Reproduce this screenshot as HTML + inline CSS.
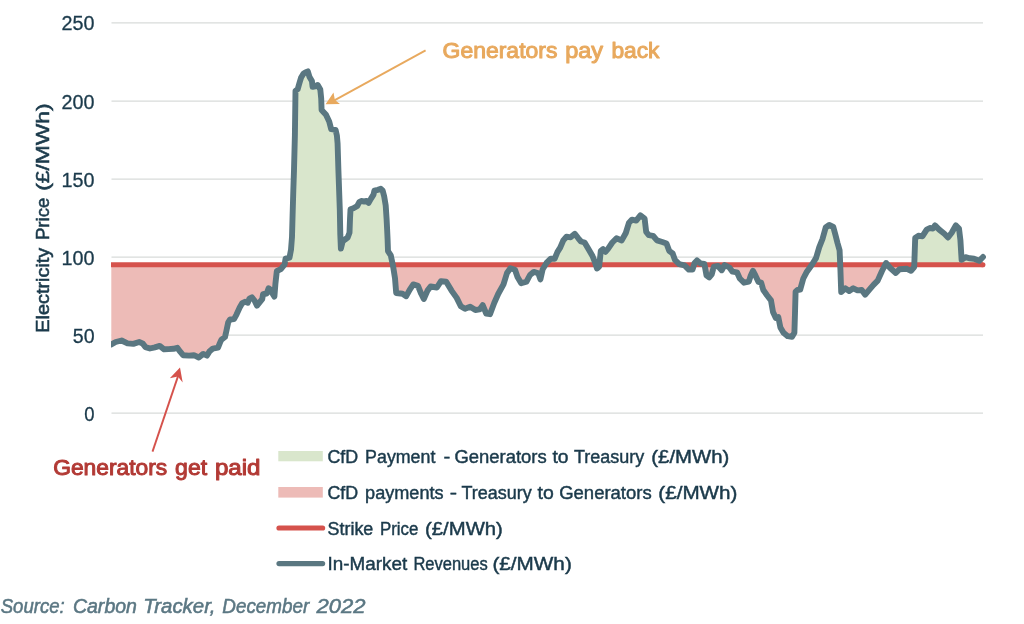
<!DOCTYPE html>
<html lang="en"><head><meta charset="utf-8"><title>CfD chart</title>
<style>html,body{margin:0;padding:0;background:#fff}svg{display:block}</style></head>
<body>
<svg width="1024" height="624" viewBox="0 0 1024 624" font-family="'Liberation Sans', sans-serif">
<defs><clipPath id="up"><rect x="111" y="0" width="900" height="264.75"/></clipPath><clipPath id="dn"><rect x="111" y="264.75" width="900" height="359"/></clipPath><clipPath id="plot"><rect x="111" y="0" width="900" height="624"/></clipPath></defs>
<rect width="1024" height="624" fill="#fff"/>
<line x1="111.5" x2="983" y1="22.9" y2="22.9" stroke="#d8dbda" stroke-width="1.25"/>
<line x1="111.5" x2="983" y1="101" y2="101" stroke="#d8dbda" stroke-width="1.25"/>
<line x1="111.5" x2="983" y1="179.2" y2="179.2" stroke="#d8dbda" stroke-width="1.25"/>
<line x1="111.5" x2="983" y1="257.1" y2="257.1" stroke="#d8dbda" stroke-width="1.25"/>
<line x1="111.5" x2="983" y1="335.1" y2="335.1" stroke="#d8dbda" stroke-width="1.25"/>
<line x1="111.5" x2="983" y1="413.1" y2="413.1" stroke="#d8dbda" stroke-width="1.25"/>
<text x="94.6" y="30.4" text-anchor="end" font-size="19.5" fill="#1b3a4b" stroke="#1b3a4b" stroke-width="0.3" textLength="33.0" lengthAdjust="spacingAndGlyphs">250</text>
<text x="94.6" y="108.5" text-anchor="end" font-size="19.5" fill="#1b3a4b" stroke="#1b3a4b" stroke-width="0.3" textLength="33.0" lengthAdjust="spacingAndGlyphs">200</text>
<text x="94.6" y="186.7" text-anchor="end" font-size="19.5" fill="#1b3a4b" stroke="#1b3a4b" stroke-width="0.3" textLength="33.0" lengthAdjust="spacingAndGlyphs">150</text>
<text x="94.6" y="264.6" text-anchor="end" font-size="19.5" fill="#1b3a4b" stroke="#1b3a4b" stroke-width="0.3" textLength="33.0" lengthAdjust="spacingAndGlyphs">100</text>
<text x="94.6" y="342.6" text-anchor="end" font-size="19.5" fill="#1b3a4b" stroke="#1b3a4b" stroke-width="0.3" textLength="21.8" lengthAdjust="spacingAndGlyphs">50</text>
<text x="94.6" y="420.6" text-anchor="end" font-size="19.5" fill="#1b3a4b" stroke="#1b3a4b" stroke-width="0.3" textLength="10.3" lengthAdjust="spacingAndGlyphs">0</text>
<g transform="translate(48.5,331.9) rotate(-90)">
<text x="-0.8" y="0" font-size="19" fill="#1b3a4b" stroke="#1b3a4b" stroke-width="0.55" textLength="85.0" lengthAdjust="spacingAndGlyphs">Electricity</text>
<text x="91.9" y="0" font-size="19" fill="#1b3a4b" stroke="#1b3a4b" stroke-width="0.55" textLength="42.3" lengthAdjust="spacingAndGlyphs">Price</text>
<text x="141.1" y="0" font-size="19" fill="#1b3a4b" stroke="#1b3a4b" stroke-width="0.55" textLength="87.4" lengthAdjust="spacingAndGlyphs">(£/MWh)</text>
</g>
<path d="M111.3,264.75 L111.3,344.4 L115.7,342.0 L121.6,340.5 L127.5,343.4 L133.3,343.9 L139.2,342.0 L142.6,343.4 L145.5,347.1 L149.9,348.5 L154.8,347.3 L159.7,345.9 L164.1,349.3 L168.5,349.1 L173.4,348.8 L177.3,347.8 L180.2,351.7 L183.1,355.2 L189.0,355.6 L193.9,355.2 L198.8,357.5 L203.2,353.9 L207.0,355.6 L209.6,351.2 L212.8,348.6 L218.0,347.7 L220.5,341.5 L221.5,339.6 L225.0,337.0 L226.3,331.3 L228.2,322.3 L230.1,319.5 L234.0,319.1 L236.5,314.6 L239.7,307.6 L242.3,303.1 L244.9,301.8 L247.7,302.8 L249.4,298.6 L251.9,297.3 L254.5,300.5 L257.0,305.6 L259.6,302.4 L262.2,299.2 L263.1,294.1 L266.7,293.5 L268.6,288.3 L270.5,289.6 L272.4,293.5 L274.4,296.6 L275.4,283.9 L276.8,271.2 L281.2,268.8 L284.6,264.4 L285.6,258.6 L289.5,257.6 L291.0,249.8 L292.0,237.0 L292.6,215.0 L293.3,191.0 L294.0,170.0 L294.9,135.0 L295.5,90.8 L297.7,89.2 L299.3,83.5 L301.0,77.8 L303.4,73.8 L305.8,72.2 L307.8,71.4 L309.4,76.7 L311.9,80.9 L312.6,86.9 L315.1,86.3 L317.7,85.0 L320.3,89.5 L321.2,98.5 L321.6,110.0 L326.0,114.8 L329.2,121.5 L331.2,129.2 L335.6,129.9 L336.9,135.6 L337.6,143.8 L338.4,170.0 L339.8,209.3 L340.3,234.7 L340.9,248.5 L342.6,241.5 L345.0,239.5 L347.6,237.6 L349.5,232.7 L350.0,219.0 L350.5,209.3 L353.4,208.3 L357.3,205.9 L359.3,202.0 L361.2,201.0 L364.2,201.5 L366.6,201.0 L368.6,202.9 L371.0,198.6 L373.5,194.6 L374.4,190.7 L377.9,189.8 L380.8,188.8 L382.7,190.7 L384.2,196.6 L385.7,205.4 L386.6,219.0 L387.1,228.8 L387.6,239.6 L388.0,251.2 L390.8,255.4 L393.0,265.8 L395.0,278.3 L396.2,293.0 L402.5,293.8 L406.2,296.2 L409.8,289.6 L413.3,284.4 L418.0,285.8 L421.2,293.8 L423.8,299.0 L427.5,290.6 L430.6,286.5 L436.9,287.5 L441.0,281.2 L446.2,281.7 L451.5,290.6 L456.7,297.9 L460.8,306.2 L465.0,308.8 L470.2,306.7 L475.4,310.0 L479.6,309.4 L482.7,305.2 L486.2,313.5 L490.0,314.2 L494.2,303.0 L498.3,293.8 L503.5,284.4 L507.0,273.0 L510.4,268.3 L515.0,269.8 L517.5,277.0 L521.2,283.3 L526.5,281.7 L530.0,275.0 L533.8,271.9 L538.3,273.3 L540.4,279.4 L542.7,269.2 L546.5,262.9 L550.8,258.6 L554.6,258.8 L557.5,251.9 L560.2,247.7 L563.3,240.4 L566.5,236.7 L570.6,237.3 L574.8,233.8 L578.3,238.3 L581.0,241.5 L584.6,242.5 L588.3,248.8 L592.5,256.0 L595.0,262.3 L597.0,268.5 L599.2,266.5 L600.8,250.8 L603.0,249.2 L605.4,251.9 L608.0,248.8 L612.3,242.5 L616.5,238.3 L621.7,240.4 L625.8,233.0 L629.0,222.7 L632.0,219.6 L636.2,220.6 L640.4,215.4 L644.6,218.5 L646.2,232.0 L648.8,235.2 L653.0,235.8 L657.0,240.4 L662.3,242.0 L666.5,243.5 L669.2,250.8 L672.6,253.3 L675.0,260.0 L679.2,264.2 L684.5,265.4 L688.8,269.6 L692.5,269.6 L694.6,263.0 L697.0,260.4 L700.2,263.3 L704.4,264.0 L706.5,275.4 L709.2,277.5 L711.7,274.4 L713.8,266.7 L718.0,266.0 L721.7,270.2 L724.6,265.0 L729.4,267.5 L732.5,271.7 L737.0,272.3 L739.8,278.5 L744.0,282.7 L748.8,281.7 L750.8,275.4 L753.0,270.8 L755.4,275.4 L758.5,282.0 L761.2,282.7 L763.3,290.0 L767.0,295.2 L771.0,300.4 L773.0,311.9 L775.8,318.0 L778.3,317.0 L780.4,327.5 L783.5,332.7 L787.7,336.2 L791.9,336.9 L794.4,332.7 L795.0,313.0 L795.6,291.7 L797.5,290.0 L800.2,289.6 L803.3,278.5 L806.5,272.3 L811.7,265.0 L816.0,258.2 L819.2,247.3 L822.5,239.0 L825.7,227.5 L829.2,225.0 L833.3,227.0 L835.4,234.8 L837.5,243.0 L839.6,250.4 L840.4,269.2 L841.2,292.0 L845.4,288.3 L849.2,291.0 L853.3,288.3 L857.5,290.4 L861.7,290.0 L865.2,294.6 L869.4,289.6 L873.5,284.8 L877.7,280.6 L881.9,271.2 L886.0,263.0 L890.2,268.0 L895.8,273.0 L899.6,269.2 L906.9,268.8 L911.0,270.8 L914.2,267.0 L915.2,238.0 L918.3,235.8 L922.5,236.2 L926.7,229.6 L929.8,228.0 L933.0,228.5 L935.0,225.4 L939.2,229.6 L944.4,233.8 L948.0,237.5 L951.7,232.7 L955.8,225.4 L959.0,228.5 L960.4,240.0 L961.6,259.8 L965.5,257.2 L969.8,258.3 L974.0,258.8 L979.2,260.8 L983.0,257.0 L983.0,264.75 Z" fill="#d9e6cc" clip-path="url(#up)"/>
<path d="M111.3,264.75 L111.3,344.4 L115.7,342.0 L121.6,340.5 L127.5,343.4 L133.3,343.9 L139.2,342.0 L142.6,343.4 L145.5,347.1 L149.9,348.5 L154.8,347.3 L159.7,345.9 L164.1,349.3 L168.5,349.1 L173.4,348.8 L177.3,347.8 L180.2,351.7 L183.1,355.2 L189.0,355.6 L193.9,355.2 L198.8,357.5 L203.2,353.9 L207.0,355.6 L209.6,351.2 L212.8,348.6 L218.0,347.7 L220.5,341.5 L221.5,339.6 L225.0,337.0 L226.3,331.3 L228.2,322.3 L230.1,319.5 L234.0,319.1 L236.5,314.6 L239.7,307.6 L242.3,303.1 L244.9,301.8 L247.7,302.8 L249.4,298.6 L251.9,297.3 L254.5,300.5 L257.0,305.6 L259.6,302.4 L262.2,299.2 L263.1,294.1 L266.7,293.5 L268.6,288.3 L270.5,289.6 L272.4,293.5 L274.4,296.6 L275.4,283.9 L276.8,271.2 L281.2,268.8 L284.6,264.4 L285.6,258.6 L289.5,257.6 L291.0,249.8 L292.0,237.0 L292.6,215.0 L293.3,191.0 L294.0,170.0 L294.9,135.0 L295.5,90.8 L297.7,89.2 L299.3,83.5 L301.0,77.8 L303.4,73.8 L305.8,72.2 L307.8,71.4 L309.4,76.7 L311.9,80.9 L312.6,86.9 L315.1,86.3 L317.7,85.0 L320.3,89.5 L321.2,98.5 L321.6,110.0 L326.0,114.8 L329.2,121.5 L331.2,129.2 L335.6,129.9 L336.9,135.6 L337.6,143.8 L338.4,170.0 L339.8,209.3 L340.3,234.7 L340.9,248.5 L342.6,241.5 L345.0,239.5 L347.6,237.6 L349.5,232.7 L350.0,219.0 L350.5,209.3 L353.4,208.3 L357.3,205.9 L359.3,202.0 L361.2,201.0 L364.2,201.5 L366.6,201.0 L368.6,202.9 L371.0,198.6 L373.5,194.6 L374.4,190.7 L377.9,189.8 L380.8,188.8 L382.7,190.7 L384.2,196.6 L385.7,205.4 L386.6,219.0 L387.1,228.8 L387.6,239.6 L388.0,251.2 L390.8,255.4 L393.0,265.8 L395.0,278.3 L396.2,293.0 L402.5,293.8 L406.2,296.2 L409.8,289.6 L413.3,284.4 L418.0,285.8 L421.2,293.8 L423.8,299.0 L427.5,290.6 L430.6,286.5 L436.9,287.5 L441.0,281.2 L446.2,281.7 L451.5,290.6 L456.7,297.9 L460.8,306.2 L465.0,308.8 L470.2,306.7 L475.4,310.0 L479.6,309.4 L482.7,305.2 L486.2,313.5 L490.0,314.2 L494.2,303.0 L498.3,293.8 L503.5,284.4 L507.0,273.0 L510.4,268.3 L515.0,269.8 L517.5,277.0 L521.2,283.3 L526.5,281.7 L530.0,275.0 L533.8,271.9 L538.3,273.3 L540.4,279.4 L542.7,269.2 L546.5,262.9 L550.8,258.6 L554.6,258.8 L557.5,251.9 L560.2,247.7 L563.3,240.4 L566.5,236.7 L570.6,237.3 L574.8,233.8 L578.3,238.3 L581.0,241.5 L584.6,242.5 L588.3,248.8 L592.5,256.0 L595.0,262.3 L597.0,268.5 L599.2,266.5 L600.8,250.8 L603.0,249.2 L605.4,251.9 L608.0,248.8 L612.3,242.5 L616.5,238.3 L621.7,240.4 L625.8,233.0 L629.0,222.7 L632.0,219.6 L636.2,220.6 L640.4,215.4 L644.6,218.5 L646.2,232.0 L648.8,235.2 L653.0,235.8 L657.0,240.4 L662.3,242.0 L666.5,243.5 L669.2,250.8 L672.6,253.3 L675.0,260.0 L679.2,264.2 L684.5,265.4 L688.8,269.6 L692.5,269.6 L694.6,263.0 L697.0,260.4 L700.2,263.3 L704.4,264.0 L706.5,275.4 L709.2,277.5 L711.7,274.4 L713.8,266.7 L718.0,266.0 L721.7,270.2 L724.6,265.0 L729.4,267.5 L732.5,271.7 L737.0,272.3 L739.8,278.5 L744.0,282.7 L748.8,281.7 L750.8,275.4 L753.0,270.8 L755.4,275.4 L758.5,282.0 L761.2,282.7 L763.3,290.0 L767.0,295.2 L771.0,300.4 L773.0,311.9 L775.8,318.0 L778.3,317.0 L780.4,327.5 L783.5,332.7 L787.7,336.2 L791.9,336.9 L794.4,332.7 L795.0,313.0 L795.6,291.7 L797.5,290.0 L800.2,289.6 L803.3,278.5 L806.5,272.3 L811.7,265.0 L816.0,258.2 L819.2,247.3 L822.5,239.0 L825.7,227.5 L829.2,225.0 L833.3,227.0 L835.4,234.8 L837.5,243.0 L839.6,250.4 L840.4,269.2 L841.2,292.0 L845.4,288.3 L849.2,291.0 L853.3,288.3 L857.5,290.4 L861.7,290.0 L865.2,294.6 L869.4,289.6 L873.5,284.8 L877.7,280.6 L881.9,271.2 L886.0,263.0 L890.2,268.0 L895.8,273.0 L899.6,269.2 L906.9,268.8 L911.0,270.8 L914.2,267.0 L915.2,238.0 L918.3,235.8 L922.5,236.2 L926.7,229.6 L929.8,228.0 L933.0,228.5 L935.0,225.4 L939.2,229.6 L944.4,233.8 L948.0,237.5 L951.7,232.7 L955.8,225.4 L959.0,228.5 L960.4,240.0 L961.6,259.8 L965.5,257.2 L969.8,258.3 L974.0,258.8 L979.2,260.8 L983.0,257.0 L983.0,264.75 Z" fill="#edbbb7" clip-path="url(#dn)"/>
<path d="M111,264.75 L982.9,264.75" stroke="#d5524c" stroke-width="5.1" fill="none"/>
<circle cx="982.9" cy="264.75" r="2.55" fill="#d5524c"/>
<path d="M111.3,344.4 L115.7,342.0 L121.6,340.5 L127.5,343.4 L133.3,343.9 L139.2,342.0 L142.6,343.4 L145.5,347.1 L149.9,348.5 L154.8,347.3 L159.7,345.9 L164.1,349.3 L168.5,349.1 L173.4,348.8 L177.3,347.8 L180.2,351.7 L183.1,355.2 L189.0,355.6 L193.9,355.2 L198.8,357.5 L203.2,353.9 L207.0,355.6 L209.6,351.2 L212.8,348.6 L218.0,347.7 L220.5,341.5 L221.5,339.6 L225.0,337.0 L226.3,331.3 L228.2,322.3 L230.1,319.5 L234.0,319.1 L236.5,314.6 L239.7,307.6 L242.3,303.1 L244.9,301.8 L247.7,302.8 L249.4,298.6 L251.9,297.3 L254.5,300.5 L257.0,305.6 L259.6,302.4 L262.2,299.2 L263.1,294.1 L266.7,293.5 L268.6,288.3 L270.5,289.6 L272.4,293.5 L274.4,296.6 L275.4,283.9 L276.8,271.2 L281.2,268.8 L284.6,264.4 L285.6,258.6 L289.5,257.6 L291.0,249.8 L292.0,237.0 L292.6,215.0 L293.3,191.0 L294.0,170.0 L294.9,135.0 L295.5,90.8 L297.7,89.2 L299.3,83.5 L301.0,77.8 L303.4,73.8 L305.8,72.2 L307.8,71.4 L309.4,76.7 L311.9,80.9 L312.6,86.9 L315.1,86.3 L317.7,85.0 L320.3,89.5 L321.2,98.5 L321.6,110.0 L326.0,114.8 L329.2,121.5 L331.2,129.2 L335.6,129.9 L336.9,135.6 L337.6,143.8 L338.4,170.0 L339.8,209.3 L340.3,234.7 L340.9,248.5 L342.6,241.5 L345.0,239.5 L347.6,237.6 L349.5,232.7 L350.0,219.0 L350.5,209.3 L353.4,208.3 L357.3,205.9 L359.3,202.0 L361.2,201.0 L364.2,201.5 L366.6,201.0 L368.6,202.9 L371.0,198.6 L373.5,194.6 L374.4,190.7 L377.9,189.8 L380.8,188.8 L382.7,190.7 L384.2,196.6 L385.7,205.4 L386.6,219.0 L387.1,228.8 L387.6,239.6 L388.0,251.2 L390.8,255.4 L393.0,265.8 L395.0,278.3 L396.2,293.0 L402.5,293.8 L406.2,296.2 L409.8,289.6 L413.3,284.4 L418.0,285.8 L421.2,293.8 L423.8,299.0 L427.5,290.6 L430.6,286.5 L436.9,287.5 L441.0,281.2 L446.2,281.7 L451.5,290.6 L456.7,297.9 L460.8,306.2 L465.0,308.8 L470.2,306.7 L475.4,310.0 L479.6,309.4 L482.7,305.2 L486.2,313.5 L490.0,314.2 L494.2,303.0 L498.3,293.8 L503.5,284.4 L507.0,273.0 L510.4,268.3 L515.0,269.8 L517.5,277.0 L521.2,283.3 L526.5,281.7 L530.0,275.0 L533.8,271.9 L538.3,273.3 L540.4,279.4 L542.7,269.2 L546.5,262.9 L550.8,258.6 L554.6,258.8 L557.5,251.9 L560.2,247.7 L563.3,240.4 L566.5,236.7 L570.6,237.3 L574.8,233.8 L578.3,238.3 L581.0,241.5 L584.6,242.5 L588.3,248.8 L592.5,256.0 L595.0,262.3 L597.0,268.5 L599.2,266.5 L600.8,250.8 L603.0,249.2 L605.4,251.9 L608.0,248.8 L612.3,242.5 L616.5,238.3 L621.7,240.4 L625.8,233.0 L629.0,222.7 L632.0,219.6 L636.2,220.6 L640.4,215.4 L644.6,218.5 L646.2,232.0 L648.8,235.2 L653.0,235.8 L657.0,240.4 L662.3,242.0 L666.5,243.5 L669.2,250.8 L672.6,253.3 L675.0,260.0 L679.2,264.2 L684.5,265.4 L688.8,269.6 L692.5,269.6 L694.6,263.0 L697.0,260.4 L700.2,263.3 L704.4,264.0 L706.5,275.4 L709.2,277.5 L711.7,274.4 L713.8,266.7 L718.0,266.0 L721.7,270.2 L724.6,265.0 L729.4,267.5 L732.5,271.7 L737.0,272.3 L739.8,278.5 L744.0,282.7 L748.8,281.7 L750.8,275.4 L753.0,270.8 L755.4,275.4 L758.5,282.0 L761.2,282.7 L763.3,290.0 L767.0,295.2 L771.0,300.4 L773.0,311.9 L775.8,318.0 L778.3,317.0 L780.4,327.5 L783.5,332.7 L787.7,336.2 L791.9,336.9 L794.4,332.7 L795.0,313.0 L795.6,291.7 L797.5,290.0 L800.2,289.6 L803.3,278.5 L806.5,272.3 L811.7,265.0 L816.0,258.2 L819.2,247.3 L822.5,239.0 L825.7,227.5 L829.2,225.0 L833.3,227.0 L835.4,234.8 L837.5,243.0 L839.6,250.4 L840.4,269.2 L841.2,292.0 L845.4,288.3 L849.2,291.0 L853.3,288.3 L857.5,290.4 L861.7,290.0 L865.2,294.6 L869.4,289.6 L873.5,284.8 L877.7,280.6 L881.9,271.2 L886.0,263.0 L890.2,268.0 L895.8,273.0 L899.6,269.2 L906.9,268.8 L911.0,270.8 L914.2,267.0 L915.2,238.0 L918.3,235.8 L922.5,236.2 L926.7,229.6 L929.8,228.0 L933.0,228.5 L935.0,225.4 L939.2,229.6 L944.4,233.8 L948.0,237.5 L951.7,232.7 L955.8,225.4 L959.0,228.5 L960.4,240.0 L961.6,259.8 L965.5,257.2 L969.8,258.3 L974.0,258.8 L979.2,260.8 L983.0,257.0" stroke="#5a7781" stroke-width="5.9" fill="none" stroke-linejoin="round" stroke-linecap="round" clip-path="url(#plot)"/>
<line x1="425.6" y1="50.3" x2="333" y2="101.1" stroke="#e8a95e" stroke-width="1.9"/>
<polygon points="325.6,104.3 333.5,92.5 334.9,99.9 340,103.9" fill="#e8a95e"/>
<text x="442.6" y="58.4" font-size="22" fill="#e8a95e" stroke="#e8a95e" stroke-width="1.0" textLength="114.8" lengthAdjust="spacingAndGlyphs" stroke-linejoin="round">Generators</text>
<text x="565.2" y="58.4" font-size="22" fill="#e8a95e" stroke="#e8a95e" stroke-width="1.0" textLength="37.9" lengthAdjust="spacingAndGlyphs" stroke-linejoin="round">pay</text>
<text x="611.4" y="58.4" font-size="22" fill="#e8a95e" stroke="#e8a95e" stroke-width="1.0" textLength="48.1" lengthAdjust="spacingAndGlyphs" stroke-linejoin="round">back</text>
<line x1="152.5" y1="451.6" x2="178.2" y2="375.6" stroke="#d5524c" stroke-width="1.9"/>
<polygon points="180,367.5 182.7,382.4 177.9,376.4 169.8,378.3" fill="#d5524c"/>
<text x="53.2" y="475.4" font-size="22" fill="#b23a35" stroke="#b23a35" stroke-width="1.0" textLength="114.1" lengthAdjust="spacingAndGlyphs" stroke-linejoin="round">Generators</text>
<text x="175.1" y="475.4" font-size="22" fill="#b23a35" stroke="#b23a35" stroke-width="1.0" textLength="32.0" lengthAdjust="spacingAndGlyphs" stroke-linejoin="round">get</text>
<text x="214.9" y="475.4" font-size="22" fill="#b23a35" stroke="#b23a35" stroke-width="1.0" textLength="45.6" lengthAdjust="spacingAndGlyphs" stroke-linejoin="round">paid</text>
<rect x="278.3" y="451" width="44.5" height="10.3" fill="#d9e6cc"/>
<rect x="278.3" y="487" width="44.5" height="10.6" fill="#edbbb7"/>
<line x1="279" x2="322.6" y1="528" y2="528" stroke="#d5524c" stroke-width="5.2" stroke-linecap="round"/>
<line x1="279" x2="322.6" y1="563.6" y2="563.6" stroke="#5a7781" stroke-width="5.2" stroke-linecap="round"/>
<text x="327.4" y="462.9" font-size="18" fill="#1b3a4b" stroke="#1b3a4b" stroke-width="0.45" textLength="30.7" lengthAdjust="spacingAndGlyphs">CfD</text>
<text x="365.1" y="462.9" font-size="18" fill="#1b3a4b" stroke="#1b3a4b" stroke-width="0.45" textLength="70.3" lengthAdjust="spacingAndGlyphs">Payment</text>
<text x="443.6" y="462.9" font-size="18" fill="#1b3a4b" stroke="#1b3a4b" stroke-width="0.45" textLength="6.8" lengthAdjust="spacingAndGlyphs">-</text>
<text x="454.4" y="462.9" font-size="18" fill="#1b3a4b" stroke="#1b3a4b" stroke-width="0.45" textLength="92.3" lengthAdjust="spacingAndGlyphs">Generators</text>
<text x="552.4" y="462.9" font-size="18" fill="#1b3a4b" stroke="#1b3a4b" stroke-width="0.45" textLength="16.1" lengthAdjust="spacingAndGlyphs">to</text>
<text x="574.0" y="462.9" font-size="18" fill="#1b3a4b" stroke="#1b3a4b" stroke-width="0.45" textLength="70.2" lengthAdjust="spacingAndGlyphs">Treasury</text>
<text x="651.3" y="462.9" font-size="18" fill="#1b3a4b" stroke="#1b3a4b" stroke-width="0.45" textLength="78.0" lengthAdjust="spacingAndGlyphs">(£/MWh)</text>
<text x="327.4" y="498.9" font-size="18" fill="#1b3a4b" stroke="#1b3a4b" stroke-width="0.45" textLength="30.7" lengthAdjust="spacingAndGlyphs">CfD</text>
<text x="365.1" y="498.9" font-size="18" fill="#1b3a4b" stroke="#1b3a4b" stroke-width="0.45" textLength="78.5" lengthAdjust="spacingAndGlyphs">payments</text>
<text x="449.7" y="498.9" font-size="18" fill="#1b3a4b" stroke="#1b3a4b" stroke-width="0.45" textLength="7.3" lengthAdjust="spacingAndGlyphs">-</text>
<text x="461.5" y="498.9" font-size="18" fill="#1b3a4b" stroke="#1b3a4b" stroke-width="0.45" textLength="70.2" lengthAdjust="spacingAndGlyphs">Treasury</text>
<text x="537.6" y="498.9" font-size="18" fill="#1b3a4b" stroke="#1b3a4b" stroke-width="0.45" textLength="16.2" lengthAdjust="spacingAndGlyphs">to</text>
<text x="559.2" y="498.9" font-size="18" fill="#1b3a4b" stroke="#1b3a4b" stroke-width="0.45" textLength="92.5" lengthAdjust="spacingAndGlyphs">Generators</text>
<text x="658.3" y="498.9" font-size="18" fill="#1b3a4b" stroke="#1b3a4b" stroke-width="0.45" textLength="79.2" lengthAdjust="spacingAndGlyphs">(£/MWh)</text>
<text x="327.6" y="535.2" font-size="18" fill="#1b3a4b" stroke="#1b3a4b" stroke-width="0.45" textLength="45.7" lengthAdjust="spacingAndGlyphs">Strike</text>
<text x="379.9" y="535.2" font-size="18" fill="#1b3a4b" stroke="#1b3a4b" stroke-width="0.45" textLength="38.4" lengthAdjust="spacingAndGlyphs">Price</text>
<text x="425.1" y="535.2" font-size="18" fill="#1b3a4b" stroke="#1b3a4b" stroke-width="0.45" textLength="77.7" lengthAdjust="spacingAndGlyphs">(£/MWh)</text>
<text x="327.6" y="570.4" font-size="18" fill="#1b3a4b" stroke="#1b3a4b" stroke-width="0.45" textLength="79.7" lengthAdjust="spacingAndGlyphs">In-Market</text>
<text x="413.4" y="570.4" font-size="18" fill="#1b3a4b" stroke="#1b3a4b" stroke-width="0.45" textLength="74.3" lengthAdjust="spacingAndGlyphs">Revenues</text>
<text x="492.4" y="570.4" font-size="18" fill="#1b3a4b" stroke="#1b3a4b" stroke-width="0.45" textLength="79.4" lengthAdjust="spacingAndGlyphs">(£/MWh)</text>
<text x="0.7" y="613.2" font-size="20.5" fill="#5b7783" stroke="#5b7783" stroke-width="0.55" textLength="64.1" lengthAdjust="spacingAndGlyphs" font-style="italic">Source:</text>
<text x="72.9" y="613.2" font-size="20.5" fill="#5b7783" stroke="#5b7783" stroke-width="0.55" textLength="64.1" lengthAdjust="spacingAndGlyphs" font-style="italic">Carbon</text>
<text x="143.3" y="613.2" font-size="20.5" fill="#5b7783" stroke="#5b7783" stroke-width="0.55" textLength="72.2" lengthAdjust="spacingAndGlyphs" font-style="italic">Tracker,</text>
<text x="222.3" y="613.2" font-size="20.5" fill="#5b7783" stroke="#5b7783" stroke-width="0.55" textLength="86.9" lengthAdjust="spacingAndGlyphs" font-style="italic">December</text>
<text x="316.4" y="613.2" font-size="20.5" fill="#5b7783" stroke="#5b7783" stroke-width="0.55" textLength="49.1" lengthAdjust="spacingAndGlyphs" font-style="italic">2022</text>
</svg>
</body></html>
